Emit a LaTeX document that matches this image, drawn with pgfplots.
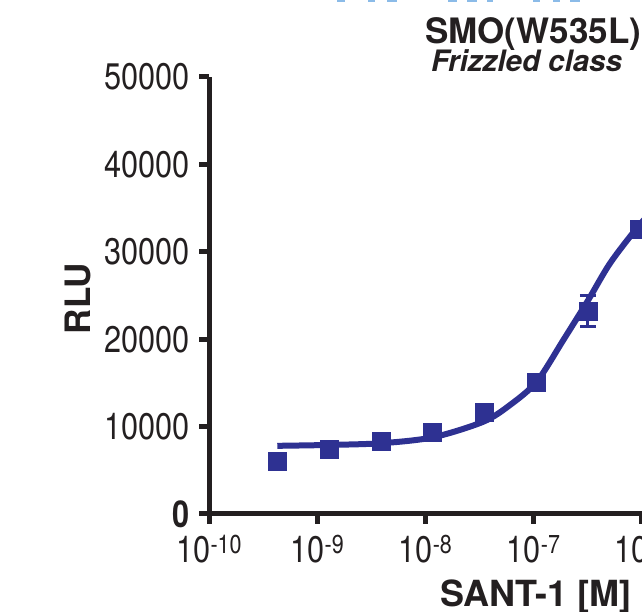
\documentclass[border=0pt]{standalone}
\usepackage{fontspec}
\setmainfont{TeX Gyre Heros}[FakeStretch=0.83]
\newfontfamily\labfont{TeX Gyre Heros}
\usepackage{pgfplots}
\pgfplotsset{compat=1.18}
\definecolor{dblue}{HTML}{2E3192}
\definecolor{lblue}{HTML}{8BBBE8}
\definecolor{axk}{HTML}{231F20}
\begin{document}
\begin{tikzpicture}[x=1pt,y=1pt]
\path[use as bounding box, clip] (0,0) rectangle (642,612);
\begin{axis}[
  at={(209.3pt,98pt)}, anchor=south west,
  scale only axis, width=648.6pt, height=437pt,
  xmode=log, log basis x=10,
  xmin=1e-10, xmax=1e-4, ymin=0, ymax=50000,
  scaled y ticks=false,
  axis lines=left,
  axis line style={-, line width=5pt, color=axk},
  tick align=outside, major tick length=10pt,
  major tick style={line width=5pt, color=axk},
  minor xtick={},
  xtick={1e-10,1e-9,1e-8,1e-7,1e-6,1e-5,1e-4},
  xticklabels={10\textsuperscript{-10},10\textsuperscript{-9},10\textsuperscript{-8},10\textsuperscript{-7},10\textsuperscript{-6},10\textsuperscript{-5},10\textsuperscript{-4}},
  ytick={0,10000,20000,30000,40000,50000},
  yticklabels={\textbf{0},10000,20000,30000,40000,50000},
  tick label style={font=\fontsize{37}{40}\selectfont, text=axk},
  yticklabel style={xshift=-6pt},
  xticklabel style={yshift=-8pt},
  clip=false,
]
\addplot[dblue, line width=6pt, smooth] coordinates {
(4.256e-10,7800) (1.279e-9,7900) (3.936e-9,8100) (1.180e-8,8780)
(3.428e-8,10560) (6.053e-8,12470) (1.069e-7,15140) (1.884e-7,19900)
(3.206e-7,24490) (5.093e-7,28680) (8.995e-7,32690) (1.479e-6,35700)
};
\addplot[dblue, only marks, mark=square*, mark size=9pt,
  error bars/.cd, y dir=both, y explicit,
  error bar style={line width=3pt, dblue},
  error mark options={rotate=90, mark size=8pt, line width=3pt, dblue}]
coordinates {
(4.227e-10,6060) +- (0,200)
(1.279e-9,7440) +- (0,200)
(3.873e-9,8350) +- (0,200)
(1.148e-8,9380) +- (0,200)
(3.475e-8,11670) +- (0,300)
(1.052e-7,15100) +- (0,400)
(3.184e-7,23230) +- (0,1770)
(9.440e-7,32610) +- (0,400)
};
\end{axis}
\node[anchor=base west, inner sep=0pt, font=\labfont\bfseries\fontsize{35}{38}\selectfont, text=axk] at (425,568) {SMO(W535L)};
\node[anchor=base west, inner sep=0pt, font=\labfont\bfseries\itshape\fontsize{29.5}{32}\selectfont, text=axk] at (431,540) {Frizzled class};
\node[anchor=base west, inner sep=0pt, font=\labfont\bfseries\fontsize{36}{40}\selectfont, text=axk] at (440,5) {SANT-1 [M]};
\node[rotate=90, anchor=base, inner sep=0pt, font=\labfont\bfseries\fontsize{35}{38}\selectfont, text=axk] at (90,313.5) {RLU};
\draw[lblue, line width=3pt] (337,611)--(345,611) (368,611)--(375,611) (387,611)--(397,611)
  (448,611)--(457,611) (467,611)--(477,611) (487,611)--(493,611)
  (533,611)--(540,611) (553,611)--(560,611) (570,611)--(580,611);
\end{tikzpicture}
\end{document}
